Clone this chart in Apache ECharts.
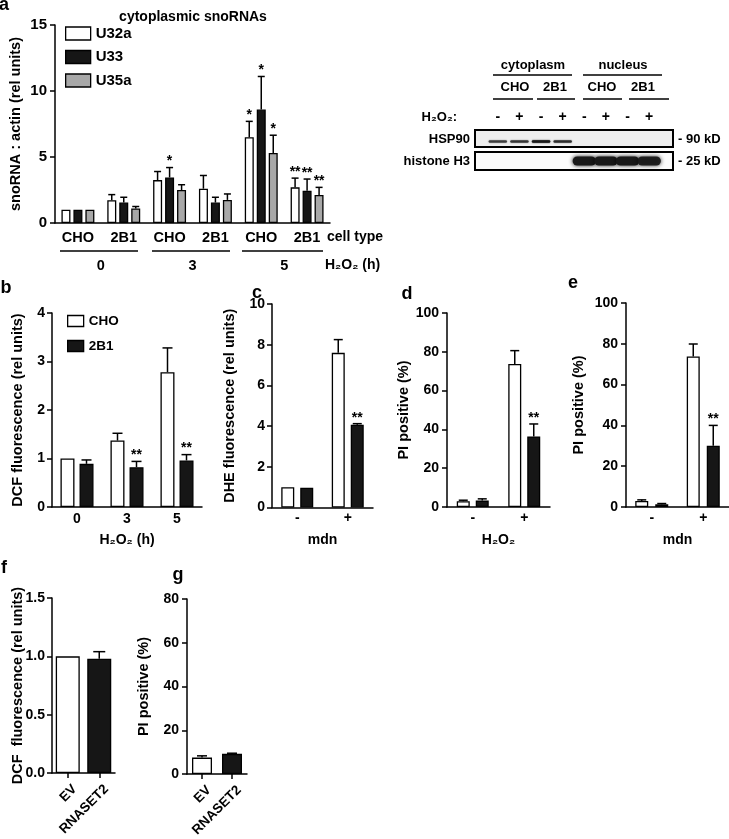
<!DOCTYPE html>
<html><head><meta charset="utf-8">
<script src="https://cdn.jsdelivr.net/npm/echarts@6/dist/echarts.min.js"></script>
<style>html,body{margin:0;padding:0;background:#fff;}#c{width:729px;height:839px;}</style>
</head><body><div id="c"></div>
<script>
// ---------- DATA ----------
// panel a
var aCategories = ['CHO', '2B1', 'CHO', '2B1', 'CHO', '2B1'];
var aGroups = ['0', '3', '5'];
var aNames = ['U32a', 'U33', 'U35a'];
var aU32a = [1.0, 1.72, 3.25, 2.6, 6.5, 2.7];
var aU32aErr = [0, 0.43, 0.65, 1.0, 1.2, 0.7];
var aU33 = [1.0, 1.55, 3.45, 1.55, 8.6, 2.45];
var aU33Err = [0, 0.4, 0.75, 0.4, 2.5, 0.88];
var aU35a = [1.0, 1.1, 2.5, 1.75, 5.3, 2.12];
var aU35aErr = [0, 0.15, 0.4, 0.45, 1.35, 0.58];
var aU32aStars = ['', '', '', '', '*', '**'];
var aU33Stars = ['', '', '*', '', '*', '**'];
var aU35aStars = ['', '', '', '', '*', '**'];
// panel b
var bCategories = ['0', '3', '5'];
var bCHO = [1.0, 1.37, 2.78];
var bCHOErr = [0, 0.15, 0.5];
var b2B1 = [0.89, 0.82, 0.96];
var b2B1Err = [0.08, 0.12, 0.12];
var b2B1Stars = ['', '**', '**'];
// panel c
var cCategories = ['-', '+'];
var cCHO = [1.0, 7.6];
var cCHOErr = [0, 0.65];
var c2B1 = [0.97, 4.07];
var c2B1Err = [0, 0.05];
var c2B1Stars = ['', '**'];
// panel d
var dCategories = ['-', '+'];
var dCHO = [3.0, 73.7];
var dCHOErr = [0.5, 6.9];
var d2B1 = [3.3, 36.4];
var d2B1Err = [0.9, 6.4];
var d2B1Stars = ['', '**'];
// panel e
var eCategories = ['-', '+'];
var eCHO = [3.0, 73.8];
var eCHOErr = [0.5, 6.1];
var e2B1 = [1.3, 30.0];
var e2B1Err = [0.4, 10.0];
var e2B1Stars = ['', '**'];
// panel f
var fCategories = ['EV', 'RNASET2'];
var fValues = [1.0, 0.98];
var fErr = [0, 0.06];
// panel g
var gCategories = ['EV', 'RNASET2'];
var gValues = [7.5, 9.2];
var gErr = [0.8, 0.3];
// western blot
var blotFractions = ['cytoplasm', 'nucleus'];
var blotCells = ['CHO', '2B1', 'CHO', '2B1'];
var blotLanes = ['-', '+', '-', '+', '-', '+', '-', '+'];
var blotHSP90 = [0.7, 0.75, 1.0, 0.8, 0, 0, 0, 0];
var blotHistone = [0, 0, 0, 0, 1.0, 1.0, 1.0, 0.95];

// ---------- STYLE HELPERS ----------
var F = '"Liberation Sans", Arial, Helvetica, sans-serif';
var WHITE = '#ffffff', BLACK = '#161616', GRAY = '#a8a8a8';
function ts(size, extra) {
  var o = {color: '#000', fontFamily: F, fontWeight: 'bold', fontSize: size};
  for (var k in extra) o[k] = extra[k];
  return o;
}
function yAx(gi, max, interval, name, gap, margin, size, fmt) {
  var lab = ts(size, {margin: margin});
  if (fmt) lab.formatter = fmt;
  return {
    type: 'value', gridIndex: gi, min: 0, max: max, interval: interval,
    name: name, nameLocation: 'middle', nameGap: gap, nameRotate: 90, nameMoveOverlap: false,
    nameTextStyle: ts(14.5),
    axisLine: {show: true, lineStyle: {color: '#000', width: 1.5}},
    axisTick: {show: true, inside: false, length: 5, lineStyle: {color: '#000', width: 1.5}},
    axisLabel: lab,
    splitLine: {show: false}
  };
}
function xAx(gi, data, o) {
  o = o || {};
  var lab = ts(o.size || 14, {margin: o.margin || 5, rotate: o.rotate || 0, interval: 0});
  if (o.vAlign) { lab.verticalAlign = o.vAlign; }
  if (o.pad) { lab.padding = o.pad; }
  return {
    type: 'category', gridIndex: gi, data: data,
    name: o.name || '', nameLocation: 'middle', nameGap: o.nameGap || 26, nameMoveOverlap: false,
    nameTextStyle: ts(14),
    axisLine: {show: o.line !== false, lineStyle: {color: '#000', width: 1.5}},
    axisTick: {show: !!o.tick, alignWithLabel: true, length: 5, lineStyle: {color: '#000', width: 1.5}},
    axisLabel: lab,
    offset: o.offset || 0,
    position: o.position || 'bottom',
    splitLine: {show: false}
  };
}
function makeErr(offset, cap, stars) {
  return function (params, api) {
    var i = api.value(0), m = api.value(1), e = api.value(2);
    var p0 = api.coord([i, m]);
    var p1 = api.coord([i, m + e]);
    var x = p0[0] + offset;
    var ch = [];
    if (e > 0) {
      ch.push({type: 'line', shape: {x1: x, y1: p0[1], x2: x, y2: p1[1]}, style: {stroke: '#000', lineWidth: 1.5}});
      ch.push({type: 'line', shape: {x1: x - cap / 2, y1: p1[1], x2: x + cap / 2, y2: p1[1]}, style: {stroke: '#000', lineWidth: 1.5}});
    }
    var s = stars ? stars[params.dataIndex] : '';
    if (s) {
      ch.push({type: 'text', style: {text: s, x: x, y: p1[1] + 1, align: 'center', verticalAlign: 'bottom',
        textAlign: 'center', textVerticalAlign: 'bottom', font: 'bold 14px ' + F, fill: '#000'}});
    }
    return {type: 'group', children: ch};
  };
}
function barS(name, xi, yi, data, color, bw, gap) {
  return {type: 'bar', name: name, xAxisIndex: xi, yAxisIndex: yi, data: data, barWidth: bw, barGap: gap,
    itemStyle: {color: color, borderColor: '#000', borderWidth: 1.3}, silent: true, z: 2};
}
function errS(xi, yi, vals, errs, stars, offset, cap) {
  return {type: 'custom', xAxisIndex: xi, yAxisIndex: yi, z: 5, silent: true, clip: false,
    data: vals.map(function (v, i) { return [i, v, errs[i]]; }),
    encode: {x: 0, y: 1},
    renderItem: makeErr(offset, cap, stars)};
}
function bandS(xi, yi, vals, yv, h, wf, blur) {
  return {type: 'custom', xAxisIndex: xi, yAxisIndex: yi, z: 5, silent: true, clip: false,
    data: vals.map(function (v, i) { return [i, v]; }),
    encode: {x: 0, y: 1},
    renderItem: function (params, api) {
      var i = api.value(0), v = api.value(1);
      if (!v) return null;
      var c = api.coord([i, yv]);
      var bw = api.size([1, 0])[0] * wf;
      return {type: 'rect', shape: {x: c[0] - bw / 2, y: c[1] - h / 2, width: bw, height: h, r: h / 2},
        style: {fill: 'rgba(25,25,25,' + v + ')', shadowBlur: blur, shadowColor: 'rgba(0,0,0,' + (0.9 * v) + ')'}};
    }};
}
function T(x, y, s, size, align) {
  align = align || 'center';
  return {type: 'text', x: x, y: y, silent: true, z: 10,
    style: {text: s, font: 'bold ' + size + 'px ' + F, fill: '#000', align: align, verticalAlign: 'middle',
      textAlign: align, textVerticalAlign: 'middle'}};
}
function L(x1, y1, x2, y2, w) {
  return {type: 'line', silent: true, z: 10, shape: {x1: x1, y1: y1, x2: x2, y2: y2}, style: {stroke: '#000', lineWidth: w || 1.5}};
}

// ---------- GRAPHICS (labels, brackets, blot frame) ----------
var g = [];
g.push(T(4, 5, 'a', 18), T(6, 288, 'b', 18), T(257, 293, 'c', 18), T(407, 294, 'd', 18),
  T(573, 283, 'e', 18), T(4, 568, 'f', 18), T(178, 575, 'g', 18));
g.push(T(193, 17, 'cytoplasmic snoRNAs', 14));
g.push(L(60, 251, 138, 251), L(152, 251, 230, 251), L(242, 251, 323, 251));
g.push(T(327, 237, 'cell type', 14, 'left'), T(325, 265, 'H\u2082O\u2082 (h)', 14, 'left'));
// blot header
g.push(T(533, 65, blotFractions[0], 13), T(623, 65, blotFractions[1], 13));
g.push(L(493, 75, 572, 75), L(583, 75, 662, 75));
var cellX = [515, 555, 602, 643];
for (var i = 0; i < blotCells.length; i++) g.push(T(cellX[i], 87, blotCells[i], 13));
g.push(L(493, 99, 533, 99), L(537, 99, 575, 99), L(583, 99, 622, 99), L(629, 99, 669, 99));
g.push(T(457, 117, 'H\u2082O\u2082:', 13, 'right'));
g.push({type: 'rect', z: -1, silent: true, shape: {x: 475, y: 130, width: 198, height: 17}, style: {fill: '#eeeeee', stroke: '#000', lineWidth: 2}});
g.push({type: 'rect', z: -1, silent: true, shape: {x: 475, y: 152, width: 198, height: 18}, style: {fill: '#fbfbfb', stroke: '#000', lineWidth: 2}});
g.push(T(470, 139, 'HSP90', 13, 'right'), T(470, 161, 'histone H3', 13, 'right'));
g.push(T(678, 139, '- 90 kD', 13, 'left'), T(678, 161, '- 25 kD', 13, 'left'));

var option = {
  animation: false,
  backgroundColor: '#fff',
  textStyle: {fontFamily: F},
  grid: [
    {left: 55, top: 25, width: 275, height: 198, containLabel: false, outerBoundsMode: 'none'},
    {left: 52, top: 313, width: 150, height: 194, containLabel: false, outerBoundsMode: 'none'},
    {left: 272, top: 304, width: 101, height: 203.5, containLabel: false, outerBoundsMode: 'none'},
    {left: 447, top: 313, width: 103, height: 194, containLabel: false, outerBoundsMode: 'none'},
    {left: 626, top: 303, width: 103, height: 204, containLabel: false, outerBoundsMode: 'none'},
    {left: 52, top: 598, width: 63, height: 175, containLabel: false, outerBoundsMode: 'none'},
    {left: 187, top: 599, width: 60, height: 175, containLabel: false, outerBoundsMode: 'none'},
    {left: 487, top: 131, width: 173, height: 15, containLabel: false, outerBoundsMode: 'none'},
    {left: 487, top: 153, width: 173, height: 16, containLabel: false, outerBoundsMode: 'none'}
  ],
  xAxis: [
    xAx(0, aCategories, {size: 14.5, margin: 7}),
    xAx(0, aGroups, {size: 14.5, margin: 5, offset: 30, line: false}),
    xAx(1, bCategories, {name: 'H\u2082O\u2082 (h)', margin: 5, nameGap: 26}),
    xAx(2, cCategories, {name: 'mdn', margin: 4, nameGap: 26}),
    xAx(3, dCategories, {name: 'H\u2082O\u2082', margin: 4, nameGap: 26}),
    xAx(4, eCategories, {name: 'mdn', margin: 4, nameGap: 26}),
    xAx(5, fCategories, {tick: true, rotate: 45, margin: 7, size: 13.5, vAlign: 'top', pad: [3, 0, 0, 0]}),
    xAx(6, gCategories, {tick: true, rotate: 45, margin: 7, size: 13.5, vAlign: 'top', pad: [3, 0, 0, 0]}),
    xAx(7, blotLanes, {size: 14, margin: 7, line: false, position: 'top'}),
    {type: 'category', gridIndex: 8, data: blotLanes, show: false}
  ],
  yAxis: [
    yAx(0, 15, 5, 'snoRNA : actin (rel units)', 32, 8, 15),
    yAx(1, 4, 1, 'DCF fluorescence (rel units)', 27, 7, 14),
    yAx(2, 10, 2, 'DHE fluorescence (rel units)', 35, 7, 14),
    yAx(3, 100, 20, 'PI positive (%)', 36, 8, 14),
    yAx(4, 100, 20, 'PI positive (%)', 40, 8, 14),
    yAx(5, 1.5, 0.5, 'DCF  fluorescence (rel units)', 27, 7, 14, function (v) { return v.toFixed(1); }),
    yAx(6, 80, 20, 'PI positive (%)', 36, 8, 14),
    {type: 'value', gridIndex: 7, min: 0, max: 1, show: false},
    {type: 'value', gridIndex: 8, min: 0, max: 1, show: false}
  ],
  legend: [
    {data: aNames, orient: 'vertical', left: 65, top: 26, padding: 0, itemWidth: 25, itemHeight: 13, itemGap: 8.5,
      icon: 'rect', selectedMode: false, textStyle: ts(15),
      itemStyle: {borderColor: '#000', borderWidth: 1.3}},
    {data: ['CHO', '2B1'], orient: 'vertical', left: 67, top: 314, padding: 0, itemWidth: 16, itemHeight: 11, itemGap: 11,
      icon: 'rect', selectedMode: false, textStyle: ts(13.5),
      itemStyle: {borderColor: '#000', borderWidth: 1.3}}
  ],
  series: [
    barS('U32a', 0, 0, aU32a, WHITE, 9, '33%'),
    barS('U33', 0, 0, aU33, BLACK, 9, '33%'),
    barS('U35a', 0, 0, aU35a, GRAY, 9, '33%'),
    errS(0, 0, aU32a, aU32aErr, aU32aStars, -12, 7),
    errS(0, 0, aU33, aU33Err, aU33Stars, 0, 7),
    errS(0, 0, aU35a, aU35aErr, aU35aStars, 12, 7),

    barS('CHO', 2, 1, bCHO, WHITE, 14, '36%'),
    barS('2B1', 2, 1, b2B1, BLACK, 14, '36%'),
    errS(2, 1, bCHO, bCHOErr, null, -9.5, 10),
    errS(2, 1, b2B1, b2B1Err, b2B1Stars, 9.5, 10),

    barS('CHO', 3, 2, cCHO, WHITE, 13, '46%'),
    barS('2B1', 3, 2, c2B1, BLACK, 13, '46%'),
    errS(3, 2, cCHO, cCHOErr, null, -9.5, 9),
    errS(3, 2, c2B1, c2B1Err, c2B1Stars, 9.5, 9),

    barS('CHO', 4, 3, dCHO, WHITE, 13, '46%'),
    barS('2B1', 4, 3, d2B1, BLACK, 13, '46%'),
    errS(4, 3, dCHO, dCHOErr, null, -9.5, 9),
    errS(4, 3, d2B1, d2B1Err, d2B1Stars, 9.5, 9),

    barS('CHO', 5, 4, eCHO, WHITE, 13, '54%'),
    barS('2B1', 5, 4, e2B1, BLACK, 13, '54%'),
    errS(5, 4, eCHO, eCHOErr, null, -10, 9),
    errS(5, 4, e2B1, e2B1Err, e2B1Stars, 10, 9),

    {type: 'bar', xAxisIndex: 6, yAxisIndex: 5, barWidth: 24, silent: true,
      data: [{value: fValues[0], itemStyle: {color: WHITE}}, {value: fValues[1], itemStyle: {color: BLACK}}],
      itemStyle: {borderColor: '#000', borderWidth: 1.3}},
    errS(6, 5, fValues, fErr, null, 0, 12),

    {type: 'bar', xAxisIndex: 7, yAxisIndex: 6, barWidth: 20, silent: true,
      data: [{value: gValues[0], itemStyle: {color: WHITE}}, {value: gValues[1], itemStyle: {color: BLACK}}],
      itemStyle: {borderColor: '#000', borderWidth: 1.3}},
    errS(7, 6, gValues, gErr, null, 0, 10),

    bandS(8, 7, blotHSP90, 0.3, 2.5, 0.85, 1.5),
    bandS(9, 8, blotHistone, 0.5, 9, 1.08, 4)
  ],
  graphic: g
};
var chart = echarts.init(document.getElementById('c'));
chart.setOption(option);
</script>
</body></html>
